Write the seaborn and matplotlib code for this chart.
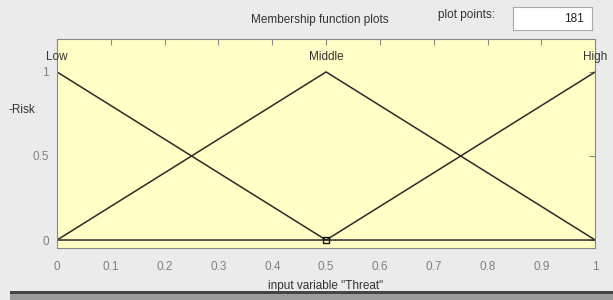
import pandas as pd
import matplotlib
matplotlib.use("Agg")
import matplotlib.pyplot as plt
import seaborn as sns

# membership functions of input variable "Threat" (triangular, corner points)
mf_names = ["Low", "Middle", "High"]
low_x = [0.0, 0.5, 1.0]
low_y = [1.0, 0.0, 0.0]
middle_x = [0.0, 0.5, 1.0]
middle_y = [0.0, 1.0, 0.0]
high_x = [0.0, 0.5, 1.0]
high_y = [0.0, 0.0, 1.0]
label_x = [0.0, 0.5, 1.0]
x_ticks = [0, 0.1, 0.2, 0.3, 0.4, 0.5, 0.6, 0.7, 0.8, 0.9, 1]
x_ticklabels = ["0", "0.1", "0.2", "0.3", "0.4", "0.5", "0.6", "0.7", "0.8", "0.9", "1"]
y_ticks = [0, 0.5, 1]
y_ticklabels = ["0", "0.5", "1"]
plot_points = 181

df = pd.concat([
    pd.DataFrame({"x": low_x, "y": low_y, "mf": "Low"}),
    pd.DataFrame({"x": middle_x, "y": middle_y, "mf": "Middle"}),
    pd.DataFrame({"x": high_x, "y": high_y, "mf": "High"}),
])

sns.set_style("white")
plt.rcParams["font.family"] = ["Liberation Sans", "DejaVu Sans"]

fig = plt.figure(figsize=(6.13, 3.0), dpi=100, facecolor="#ebebeb")
ax = fig.add_axes([0.093, 0.173, 0.878, 0.697])
ax.set_facecolor("#ffffc6")

sns.lineplot(data=df, x="x", y="y", units="mf", estimator=None,
             color="#2a2a2a", linewidth=1.1, ax=ax, sort=False)
ax.plot([0.5], [0], marker="s", markersize=5, markerfacecolor="none",
        markeredgecolor="#111111", markeredgewidth=1.0)

for name, lx in zip(mf_names, label_x):
    ax.text(lx, 1.09, name, ha="center", va="center", fontsize=8.5, color="#333333")

ax.set_xlim(0, 1)
ax.set_ylim(-0.048, 1.196)
ax.set_xticks(x_ticks)
ax.set_xticklabels(x_ticklabels)
ax.set_yticks(y_ticks)
ax.set_yticklabels(y_ticklabels)
ax.tick_params(axis="both", direction="in", length=4, width=0.8,
               labelsize=8.5, labelcolor="#808080", color="#888888",
               top=True, right=True, pad=6)
ax.tick_params(axis="x", pad=9)
for sp in ax.spines.values():
    sp.set_color("#888888")
    sp.set_linewidth(0.8)

ax.set_xlabel('input variable "Threat"', fontsize=8.5, color="#333333", labelpad=5)
ax.set_ylabel("")

fig.text(35 / 613, 1 - 110 / 300, "-Risk", ha="right", va="center",
         fontsize=8.5, color="#333333")
fig.text(320 / 613, 1 - 20 / 300, "Membership function plots", ha="center",
         va="center", fontsize=8.5, color="#333333")
fig.text(467 / 613, 1 - 15 / 300, "plot points:", ha="center", va="center",
         fontsize=8.5, color="#333333")
box = fig.add_axes([513 / 613, 1 - 30 / 300, 79 / 613, 23 / 300])
box.set_facecolor("white")
box.set_xticks([])
box.set_yticks([])
for sp in box.spines.values():
    sp.set_color("#aaaaaa")
box.text(0.9, 0.5, str(plot_points), ha="right", va="center",
         fontsize=8.5, color="#222222", transform=box.transAxes)

# window edge at the bottom
fig.add_artist(plt.Rectangle((10 / 613, 0), 1, 6 / 300, transform=fig.transFigure,
                             facecolor="#9c9c9c", edgecolor="none"))
fig.add_artist(plt.Rectangle((10 / 613, 6 / 300), 1, 3 / 300, transform=fig.transFigure,
                             facecolor="#444444", edgecolor="none"))

fig.savefig("out.png", dpi=100, facecolor=fig.get_facecolor())
